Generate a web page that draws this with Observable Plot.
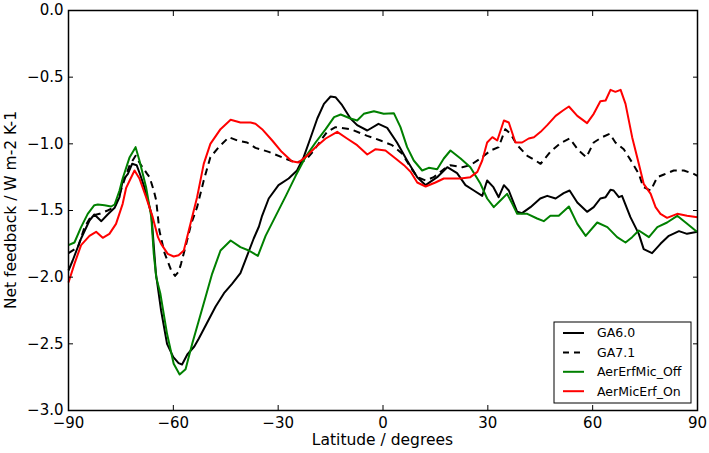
<!DOCTYPE html>
<html><head><meta charset="utf-8">
<script src="https://cdn.jsdelivr.net/npm/d3@7"></script>
<script src="https://cdn.jsdelivr.net/npm/@observablehq/plot@0.6"></script>
<style>body{margin:0;background:#fff;}</style>
</head><body><div id="chart"></div>
<script>
// GA6.0 (black solid)
const ga60Lat = [-90,-88.8,-86.4,-84,-82.6,-80.6,-78.8,-76.8,-75.4,-74.5,-73,-71.8,-70.5,-69.5,-68.3,-66.3,-65,-63.5,-61.8,-60,-58.5,-57.5,-56,-54,-52.7,-50.3,-47.9,-45.5,-43.2,-40.8,-38.9,-37,-35.5,-34.6,-32.7,-29.9,-27,-24.6,-22.7,-20.8,-18.8,-16.9,-15,-13.6,-11.7,-9.3,-7.4,-4.5,-1.3,1.2,4,6.9,9.8,12.2,15.5,18.4,21.2,23.6,26,28.4,29.8,31.6,33.1,34.6,36,38.4,39.8,42.2,45,47,49.4,51.7,53.4,55.6,58.4,60.3,62.2,63.7,65.1,66,67.5,68.4,70.8,73.2,74.6,77,79.4,81.8,84.7,87,90];
const ga60Val = [-1.95,-1.875,-1.71,-1.575,-1.53,-1.58,-1.53,-1.48,-1.4,-1.275,-1.225,-1.15,-1.16,-1.23,-1.325,-1.525,-1.97,-2.25,-2.5,-2.6,-2.645,-2.655,-2.58,-2.52,-2.46,-2.34,-2.22,-2.12,-2.05,-1.97,-1.84,-1.71,-1.62,-1.54,-1.41,-1.31,-1.26,-1.2,-1.1,-0.96,-0.81,-0.7,-0.645,-0.65,-0.71,-0.81,-0.86,-0.9,-0.85,-0.88,-0.99,-1.125,-1.25,-1.31,-1.25,-1.175,-1.22,-1.31,-1.35,-1.39,-1.275,-1.325,-1.4,-1.31,-1.35,-1.51,-1.52,-1.475,-1.41,-1.39,-1.41,-1.37,-1.35,-1.44,-1.51,-1.475,-1.41,-1.4,-1.345,-1.35,-1.4,-1.39,-1.55,-1.675,-1.79,-1.82,-1.75,-1.69,-1.655,-1.675,-1.66];

// GA7.1 (black dashed)
const ga71Lat = [-90,-87.3,-85.4,-83.5,-81.1,-78.8,-76.8,-75.4,-74,-72.5,-70.8,-69.5,-67.5,-66.8,-65.6,-64.9,-64,-62.5,-60.6,-59.5,-58.5,-57.8,-56.3,-54.9,-53.2,-51.3,-49.4,-47,-44.1,-41.7,-38.9,-36.5,-32.7,-29,-25,-22.2,-19.8,-17.4,-16,-13.6,-12.2,-9.3,-4.5,-0.7,2.6,5.5,7.9,9.8,12.2,14.5,17.4,19.3,22.7,25,27.9,30.8,33.1,35,36.5,38.4,41.3,43.6,45.1,47.9,50.8,53.4,56,58.2,60.3,62.7,64.9,66.5,68.9,71.3,73.2,74.5,76.6,78.5,80.4,83.2,86.1,88.9,90];
const ga71Val = [-1.82,-1.775,-1.625,-1.54,-1.525,-1.5,-1.475,-1.38,-1.27,-1.16,-1.09,-1.15,-1.225,-1.25,-1.35,-1.425,-1.65,-1.82,-1.95,-1.99,-1.96,-1.9,-1.75,-1.6,-1.475,-1.275,-1.1,-1.025,-0.95,-0.975,-0.99,-1.03,-1.06,-1.1,-1.14,-1.125,-1.05,-0.96,-0.91,-0.875,-0.88,-0.89,-0.94,-0.975,-1.01,-1.075,-1.175,-1.25,-1.275,-1.25,-1.19,-1.16,-1.175,-1.16,-1.11,-1.05,-1.025,-0.89,-0.925,-1.01,-1.09,-1.125,-1.15,-1.06,-0.995,-0.96,-1.05,-1.1,-0.99,-0.95,-0.925,-0.99,-1.04,-1.14,-1.225,-1.325,-1.35,-1.25,-1.23,-1.2,-1.2,-1.225,-1.24];

// AerErfMic_Off (green)
const offLat = [-90,-88.3,-86.4,-84.5,-82.6,-81.6,-79.7,-77.8,-76.8,-75.4,-74.5,-72.5,-70.8,-69.7,-67.8,-66.3,-65.6,-64.9,-63.7,-61.8,-59.9,-58.2,-56.5,-54.6,-52.7,-50.8,-48.9,-46.5,-43.6,-40.8,-38.4,-35.8,-33.6,-30.7,-27.8,-25,-22.2,-19.3,-16.4,-14,-12.1,-9.3,-7.4,-5.5,-2.6,0.2,3.1,5,6.9,8.8,11.2,13.1,15.5,17.4,19.3,22.2,25,27.9,29.8,31.7,33.6,35.5,37,38.4,41.3,44.1,46,47.9,50.3,53.2,55.6,58,61.3,64.2,67,69.4,71.3,73.2,76.1,78.5,81.3,84.2,86.6,89.4,90];
const offVal = [-1.76,-1.74,-1.625,-1.525,-1.46,-1.455,-1.46,-1.47,-1.455,-1.35,-1.26,-1.1,-1.025,-1.125,-1.325,-1.55,-1.825,-2.0,-2.125,-2.425,-2.65,-2.73,-2.69,-2.5,-2.325,-2.15,-1.975,-1.8,-1.725,-1.775,-1.8,-1.84,-1.69,-1.54,-1.39,-1.24,-1.1,-0.99,-0.89,-0.8,-0.78,-0.81,-0.825,-0.775,-0.755,-0.775,-0.77,-0.875,-1.025,-1.125,-1.2,-1.18,-1.19,-1.11,-1.05,-1.11,-1.175,-1.3,-1.41,-1.475,-1.425,-1.375,-1.45,-1.525,-1.525,-1.56,-1.58,-1.54,-1.54,-1.47,-1.6,-1.69,-1.59,-1.625,-1.7,-1.74,-1.7,-1.65,-1.7,-1.625,-1.59,-1.54,-1.59,-1.65,-1.66];

// AerMicErf_On (red)
const onLat = [-90,-88.3,-86.4,-84,-82.1,-80.2,-78.3,-76.4,-74.5,-73.5,-72.5,-71.1,-69.7,-67.8,-65.9,-64.4,-63.5,-61.6,-59.9,-58.5,-57,-55.1,-53.2,-51.3,-49.4,-46.5,-43.6,-40.8,-37.9,-36.5,-34.6,-31.7,-29,-26.1,-24.2,-22.2,-19.3,-16.4,-13.1,-10.3,-7.4,-4.5,-2.1,0.7,3.6,6,7.9,9.8,12.2,15,17.4,19.3,22.2,25,27,28.4,29.8,31.3,32.7,34.6,36,37.9,39.8,41.7,43.2,45.1,47,49.4,51.5,53.2,55.6,58.4,60.3,62.2,63.7,65.1,66.5,68,69.4,71.3,73.2,74.6,76.6,78,79.4,81.3,84.2,87,90];
const onVal = [-2.04,-1.9,-1.76,-1.69,-1.66,-1.705,-1.675,-1.6,-1.45,-1.33,-1.275,-1.2,-1.26,-1.4,-1.55,-1.7,-1.75,-1.825,-1.845,-1.835,-1.8,-1.6,-1.4,-1.15,-1.0,-0.89,-0.82,-0.84,-0.84,-0.85,-0.89,-0.975,-1.06,-1.13,-1.14,-1.1,-1.025,-0.96,-0.91,-0.96,-1.01,-1.08,-1.04,-1.05,-1.11,-1.16,-1.21,-1.29,-1.32,-1.29,-1.26,-1.26,-1.26,-1.25,-1.21,-1.125,-0.99,-0.95,-0.975,-0.825,-0.84,-0.99,-0.99,-0.96,-0.95,-0.91,-0.86,-0.79,-0.75,-0.72,-0.79,-0.845,-0.775,-0.68,-0.675,-0.595,-0.61,-0.595,-0.7,-0.95,-1.15,-1.3,-1.375,-1.475,-1.525,-1.555,-1.525,-1.54,-1.55];

const seriesNames = ["GA6.0", "GA7.1", "AerErfMic_Off", "AerMicErf_On"];
const seriesColors = ["#000000", "#000000", "#008000", "#ff0000"];
const seriesDash = [null, "7,5", null, null];
const xTicks = [-90, -60, -30, 0, 30, 60, 90];
const yTicks = [0, -0.5, -1, -1.5, -2, -2.5, -3];
const xLabel = "Latitude / degrees";
const yLabel = "Net feedback / W m-2 K-1";

const rows = (lat, val) => lat.map((x, i) => ({lat: x, v: val[i]}));
const data = [rows(ga60Lat, ga60Val), rows(ga71Lat, ga71Val), rows(offLat, offVal), rows(onLat, onVal)];
const minus = s => s.replace("-", "\u2212");
const fmtX = d => minus(String(d));
const fmtY = d => minus(d.toFixed(1)).replace("\u22120.0", "0.0");

const W = 709, H = 453;
const mL = 68, mR = 12, mT = 10, mB = 43;

const chart = Plot.plot({
  width: W, height: H,
  marginLeft: mL, marginRight: mR, marginTop: mT, marginBottom: mB,
  x: {domain: [-90, 90]},
  y: {domain: [-3, 0]},
  style: {fontFamily: "DejaVu Sans", fontSize: "15px", color: "#000", background: "#fff"},
  marks: [
    ...data.map((d, i) => Plot.line(d, {x: "lat", y: "v", stroke: seriesColors[i], strokeWidth: 2, strokeDasharray: seriesDash[i], strokeLinejoin: "round", strokeLinecap: "butt"})),
    Plot.axisX({anchor: "bottom", ticks: xTicks, tickFormat: fmtX, tickSize: -5, tickPadding: 12, label: null, strokeWidth: 1}),
    Plot.axisX({anchor: "top", ticks: xTicks, tickFormat: () => "", tickSize: -5, label: null}),
    Plot.axisY({anchor: "left", ticks: yTicks, tickFormat: fmtY, tickSize: -5, tickPadding: 10, label: null}),
    Plot.axisY({anchor: "right", ticks: yTicks, tickFormat: () => "", tickSize: -5, label: null}),
    Plot.frame({stroke: "#000", strokeWidth: 1.5})
  ]
});

const svg = d3.select(chart);
// axis titles
svg.append("text").attr("x", mL + (W - mL - mR) / 2).attr("y", 445)
  .attr("text-anchor", "middle").style("font-size", "15.5px").attr("fill", "#000").text(xLabel);
svg.append("text").attr("transform", `translate(16,${mT + (H - mT - mB) / 2}) rotate(-90)`)
  .attr("text-anchor", "middle").style("font-size", "15.5px").attr("fill", "#000").text(yLabel);

// legend
const lg = svg.append("g").attr("transform", "translate(554,322)");
lg.append("rect").attr("width", 137).attr("height", 81).attr("fill", "#fff").attr("stroke", "#000").attr("stroke-width", 1);
seriesNames.forEach((n, i) => {
  const yy = 11 + i * 19.4;
  lg.append("line").attr("x1", 9).attr("x2", 30).attr("y1", yy).attr("y2", yy)
    .attr("stroke", seriesColors[i]).attr("stroke-width", 2)
    .attr("stroke-dasharray", seriesDash[i] ? "6,5" : null);
  lg.append("text").attr("x", 43).attr("y", yy).attr("dy", "0.35em")
    .attr("text-anchor", "start").style("text-anchor", "start")
    .style("font-size", "12.5px").attr("fill", "#000").text(n);
});

document.getElementById("chart").appendChild(chart);
</script>
</body></html>
